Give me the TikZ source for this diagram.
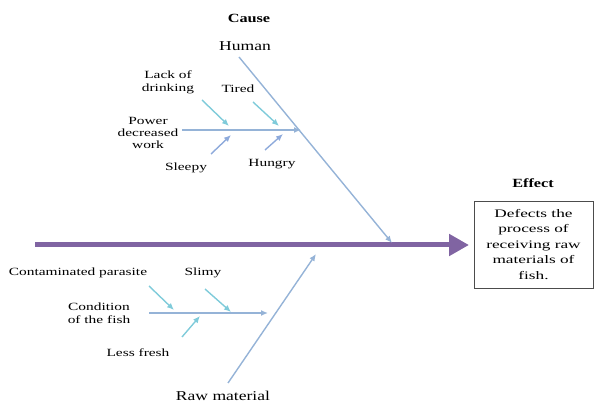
\documentclass[tikz,border=0pt]{standalone}
\usepackage{fontspec}
\setmainfont{Liberation Serif}[FakeStretch=1.3]
\newfontfamily\lblfont{Liberation Serif}[FakeStretch=1.4]
\newfontfamily\boxfont{Liberation Serif}[FakeStretch=1.5]
\usetikzlibrary{arrows.meta}
\definecolor{spine}{HTML}{8064A2}
\definecolor{bone}{HTML}{95B3D7}
\definecolor{aqua}{HTML}{7FCBDA}
\definecolor{steel}{HTML}{8EAADB}
\tikzset{
  lbl/.style={font=\lblfont\fontsize{11}{13}\selectfont, inner sep=0pt, align=center},
  cat/.style={font=\fontsize{13.5}{16}\selectfont, inner sep=0pt},
  head/.style={font=\bfseries\fontsize{12.5}{15}\selectfont, inner sep=0pt},
  bonearrow/.style={draw=bone, line width=1.4pt, -{Latex[length=7pt,width=6pt]}},
  aquaarrow/.style={draw=aqua, line width=1.4pt, -{Latex[length=7pt,width=6pt]}},
  steelarrow/.style={draw=steel, line width=1.4pt, -{Latex[length=7pt,width=6pt]}},
  spinearrow/.style={draw=spine, line width=5pt, -{Triangle[length=20pt,width=21pt]}},
  effectbox/.style={draw=black!70, line width=0.8pt, minimum width=119pt, minimum height=87pt,
    font=\boxfont\fontsize{11.5}{15.5}\selectfont, align=center, inner sep=2pt}
}
\begin{document}
\begin{tikzpicture}[x=1pt,y=-1pt]
\useasboundingbox (0,0) rectangle (595,406);
% headings
\node[head] (cause) at (249,18) {Cause};
\node[head] (effect) at (533,183) {Effect};
\node[effectbox] (box) at (533.5,244.5) {Defects the\\process of\\receiving raw\\materials of\\fish.};
% spine
\coordinate (s0) at (35,245);
\coordinate (s1) at (469,245);
\draw[spinearrow] (s0) -- (s1);
% Human
\node[cat] (human) at (245,46) {Human};
\coordinate (h0) at (239,57);
\coordinate (h1) at (392,243);
\draw[bonearrow] (h0) -- (h1);
\coordinate (hb0) at (182,130);
\coordinate (hb1) at (301,130);
\draw[bonearrow] (hb0) -- (hb1);
\node[lbl] (lack) at (168,82) {Lack of\\drinking};
\node[lbl] (tired) at (238,89) {Tired};
\node[lbl, font=\lblfont\fontsize{11}{12.3}\selectfont] (power) at (148,133) {Power\\decreased\\work};
\node[lbl] (sleepy) at (186,168) {Sleepy};
\node[lbl] (hungry) at (272,164) {Hungry};
\coordinate (a1s) at (202,100); \coordinate (a1e) at (229,126);
\coordinate (a2s) at (253,102); \coordinate (a2e) at (279,126);
\coordinate (a3s) at (211,154); \coordinate (a3e) at (231,135);
\coordinate (a4s) at (265,150); \coordinate (a4e) at (283,134);
\draw[aquaarrow] (a1s) -- (a1e);
\draw[aquaarrow] (a2s) -- (a2e);
\draw[steelarrow] (a3s) -- (a3e);
\draw[steelarrow] (a4s) -- (a4e);
% Raw material
\node[cat] (raw) at (223,396) {Raw material};
\coordinate (r0) at (228,383);
\coordinate (r1) at (316,254);
\draw[bonearrow] (r0) -- (r1);
\coordinate (rb0) at (149,313);
\coordinate (rb1) at (268,313);
\draw[bonearrow] (rb0) -- (rb1);
\node[lbl] (conta) at (78,273) {Contaminated parasite};
\node[lbl] (slimy) at (203,273) {Slimy};
\node[lbl] (cond) at (99,313.5) {Condition\\of the fish};
\node[lbl] (less) at (138,353) {Less fresh};
\coordinate (b1s) at (149,286); \coordinate (b1e) at (174,310);
\coordinate (b2s) at (205,289); \coordinate (b2e) at (231,312);
\coordinate (b3s) at (182,337); \coordinate (b3e) at (200,316);
\draw[aquaarrow] (b1s) -- (b1e);
\draw[aquaarrow] (b2s) -- (b2e);
\draw[aquaarrow] (b3s) -- (b3e);
\end{tikzpicture}
\end{document}
